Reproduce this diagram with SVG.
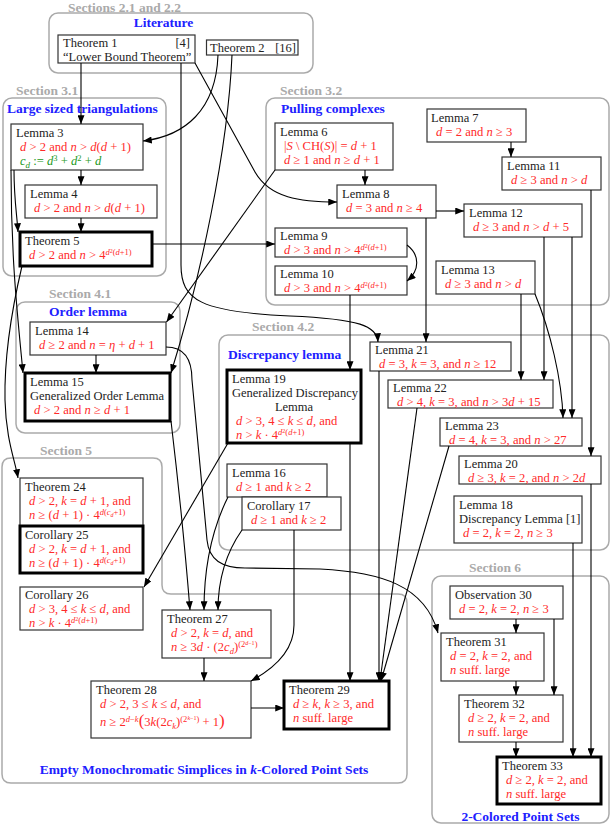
<svg xmlns="http://www.w3.org/2000/svg" width="612" height="827" viewBox="0 0 612 827">
<style>
.t{font-family:"Liberation Serif",serif;font-size:12.5px;fill:#222}
.m{font-family:"Liberation Serif",serif;font-size:12.6px;fill:#ff2a2a}
.gr{fill:#229922}
.i{font-style:italic}
.sec{font-family:"Liberation Serif",serif;font-weight:bold;font-size:13.5px;fill:#aaaaaa}
.lab{font-family:"Liberation Serif",serif;font-weight:bold;font-size:13.5px;fill:#2020ff}
.cl{fill:none;stroke:#aaaaaa;stroke-width:1.5}
.n{fill:#fff;stroke:#333;stroke-width:1.2}
.nb{fill:#fff;stroke:#000;stroke-width:3}
.e{fill:none;stroke:#000;stroke-width:1.1;marker-end:url(#a)}
</style>
<defs>
<marker id="a" viewBox="0 0 10 8" refX="10" refY="4" markerWidth="9" markerHeight="7" orient="auto" markerUnits="userSpaceOnUse"><path d="M0,0 L10,4 L0,8 z" fill="#000"/></marker>
</defs>
<rect width="612" height="827" fill="#fff"/>
<g id="clusters">
<rect class="cl" x="49" y="13" width="264" height="60" rx="9"/>
<text class="sec" x="68" y="11.5">Sections 2.1 and 2.2</text>
<text class="lab" x="163.5" y="27" text-anchor="middle">Literature</text>
<rect class="cl" x="3" y="98" width="163" height="178" rx="9"/>
<text class="sec" x="16" y="95">Section 3.1</text>
<text class="lab" x="7" y="113">Large sized triangulations</text>
<rect class="cl" x="266" y="98" width="343" height="207" rx="9"/>
<text class="sec" x="280" y="95">Section 3.2</text>
<text class="lab" x="281" y="113">Pulling complexes</text>
<rect class="cl" x="16" y="302" width="164" height="131" rx="9"/>
<text class="sec" x="49" y="298">Section 4.1</text>
<text class="lab" x="49" y="316">Order lemma</text>
<rect class="cl" x="219" y="335" width="390" height="215" rx="9"/>
<text class="sec" x="252" y="331">Section 4.2</text>
<text class="lab" x="228" y="359">Discrepancy lemma</text>
<path class="cl" d="M11,458 L153,458 Q162,458 162,467 L162,585 Q162,594 171,594 L398,594 Q407,594 407,603 L407,774 Q407,783 398,783 L11,783 Q2,783 2,774 L2,467 Q2,458 11,458 Z"/>
<text class="sec" x="40" y="455">Section 5</text>
<text class="lab" x="204" y="774" text-anchor="middle">Empty Monochromatic Simplices in <tspan class="i">k</tspan>-Colored Point Sets</text>
<rect class="cl" x="432" y="576" width="177" height="247" rx="9"/>
<text class="sec" x="469" y="572">Section 6</text>
<text class="lab" x="520.5" y="821" text-anchor="middle">2-Colored Point Sets</text>
</g>
<g id="theorem1"><rect class="n" x="58" y="35" width="137" height="28"/><text class="t" x="63" y="47">Theorem 1</text><text class="t" x="190" y="47" text-anchor="end">[4]</text><text class="t" x="63" y="61">“Lower Bound Theorem”</text></g>
<g id="theorem2"><rect class="n" x="206.5" y="40" width="91.5" height="15"/><text class="t" x="210" y="52">Theorem 2</text><text class="t" x="296" y="52" text-anchor="end">[16]</text></g>
<g id="lemma3"><rect class="n" x="11" y="124" width="132" height="46"/><text class="t" x="16" y="137">Lemma 3</text><text class="m" x="20" y="151"><tspan class="i">d</tspan> &gt; 2 and <tspan class="i">n</tspan> &gt; <tspan class="i">d</tspan>(<tspan class="i">d</tspan> + 1)</text><text class="m gr" x="20" y="165"><tspan class="i">c</tspan><tspan class="i" dy="3" font-size="9">d</tspan><tspan dy="-3"> := </tspan><tspan class="i">d</tspan><tspan dy="-4" font-size="8.5">3</tspan><tspan dy="4"> + </tspan><tspan class="i">d</tspan><tspan dy="-4" font-size="8.5">2</tspan><tspan dy="4"> + </tspan><tspan class="i">d</tspan></text></g>
<g id="lemma4"><rect class="n" x="25" y="185" width="132" height="33"/><text class="t" x="30" y="198">Lemma 4</text><text class="m" x="34" y="212"><tspan class="i">d</tspan> &gt; 2 and <tspan class="i">n</tspan> &gt; <tspan class="i">d</tspan>(<tspan class="i">d</tspan> + 1)</text></g>
<g id="theorem5"><rect class="nb" x="20" y="232" width="132" height="34"/><text class="t" x="25" y="245">Theorem 5</text><text class="m" x="29" y="259"><tspan class="i">d</tspan> &gt; 2 and <tspan class="i">n</tspan> &gt; 4<tspan dy="-4" font-size="8.5"><tspan class="i">d</tspan><tspan dy="-2.5" font-size="6">2</tspan><tspan dy="2.5">(</tspan><tspan class="i">d</tspan>+1)</tspan></text></g>
<g id="lemma6"><rect class="n" x="275" y="123" width="118" height="47"/><text class="t" x="280" y="136">Lemma 6</text><text class="m" x="284" y="150">|<tspan class="i">S</tspan> \ CH(<tspan class="i">S</tspan>)| = <tspan class="i">d</tspan> + 1</text><text class="m" x="284" y="164"><tspan class="i">d</tspan> ≥ 1 and <tspan class="i">n</tspan> ≥ <tspan class="i">d</tspan> + 1</text></g>
<g id="lemma7"><rect class="n" x="427" y="109" width="99" height="33"/><text class="t" x="431" y="122">Lemma 7</text><text class="m" x="436" y="136"><tspan class="i">d</tspan> = 2 and <tspan class="i">n</tspan> ≥ 3</text></g>
<g id="lemma11"><rect class="n" x="502" y="157" width="99" height="33"/><text class="t" x="507" y="170">Lemma 11</text><text class="m" x="511" y="184"><tspan class="i">d</tspan> ≥ 3 and <tspan class="i">n</tspan> &gt; <tspan class="i">d</tspan></text></g>
<g id="lemma8"><rect class="n" x="337" y="185" width="99" height="33"/><text class="t" x="342" y="198">Lemma 8</text><text class="m" x="346" y="212"><tspan class="i">d</tspan> = 3 and <tspan class="i">n</tspan> ≥ 4</text></g>
<g id="lemma12"><rect class="n" x="464" y="204" width="118" height="33"/><text class="t" x="469" y="217">Lemma 12</text><text class="m" x="473" y="231"><tspan class="i">d</tspan> ≥ 3 and <tspan class="i">n</tspan> &gt; <tspan class="i">d</tspan> + 5</text></g>
<g id="lemma9"><rect class="n" x="275" y="228" width="132" height="29"/><text class="t" x="280" y="240">Lemma 9</text><text class="m" x="284" y="254"><tspan class="i">d</tspan> &gt; 3 and <tspan class="i">n</tspan> &gt; 4<tspan dy="-4" font-size="8.5"><tspan class="i">d</tspan><tspan dy="-2.5" font-size="6">2</tspan><tspan dy="2.5">(</tspan><tspan class="i">d</tspan>+1)</tspan></text></g>
<g id="lemma10"><rect class="n" x="275" y="266" width="132" height="29"/><text class="t" x="280" y="278">Lemma 10</text><text class="m" x="284" y="292"><tspan class="i">d</tspan> &gt; 3 and <tspan class="i">n</tspan> &gt; 4<tspan dy="-4" font-size="8.5"><tspan class="i">d</tspan><tspan dy="-2.5" font-size="6">2</tspan><tspan dy="2.5">(</tspan><tspan class="i">d</tspan>+1)</tspan></text></g>
<g id="lemma13"><rect class="n" x="436" y="261" width="99" height="33"/><text class="t" x="441" y="274">Lemma 13</text><text class="m" x="445" y="288"><tspan class="i">d</tspan> ≥ 3 and <tspan class="i">n</tspan> &gt; <tspan class="i">d</tspan></text></g>
<g id="lemma14"><rect class="n" x="30" y="322" width="136" height="33"/><text class="t" x="35" y="335">Lemma 14</text><text class="m" x="39" y="349"><tspan class="i">d</tspan> ≥ 2 and <tspan class="i">n</tspan> = <tspan class="i">η</tspan> + <tspan class="i">d</tspan> + 1</text></g>
<g id="lemma15"><rect class="nb" x="25" y="373" width="145" height="48"/><text class="t" x="30" y="386">Lemma 15</text><text class="t" x="30" y="400">Generalized Order Lemma</text><text class="m" x="34" y="414"><tspan class="i">d</tspan> &gt; 2 and <tspan class="i">n</tspan> ≥ <tspan class="i">d</tspan> + 1</text></g>
<g id="lemma21"><rect class="n" x="370" y="342" width="141" height="29"/><text class="t" x="375" y="354">Lemma 21</text><text class="m" x="379" y="368"><tspan class="i">d</tspan> = 3, <tspan class="i">k</tspan> = 3, and <tspan class="i">n</tspan> ≥ 12</text></g>
<g id="lemma22"><rect class="n" x="388" y="380" width="165" height="28"/><text class="t" x="393" y="392">Lemma 22</text><text class="m" x="397" y="406"><tspan class="i">d</tspan> &gt; 4, <tspan class="i">k</tspan> = 3, and <tspan class="i">n</tspan> &gt; 3<tspan class="i">d</tspan> + 15</text></g>
<g id="lemma23"><rect class="n" x="440" y="418" width="142" height="28"/><text class="t" x="445" y="430">Lemma 23</text><text class="m" x="449" y="444"><tspan class="i">d</tspan> = 4, <tspan class="i">k</tspan> = 3, and <tspan class="i">n</tspan> &gt; 27</text></g>
<g id="lemma20"><rect class="n" x="459" y="456" width="142" height="28"/><text class="t" x="464" y="468">Lemma 20</text><text class="m" x="468" y="482"><tspan class="i">d</tspan> ≥ 3, <tspan class="i">k</tspan> = 2, and <tspan class="i">n</tspan> &gt; 2<tspan class="i">d</tspan></text></g>
<g id="lemma18"><rect class="n" x="454" y="496" width="128" height="47"/><text class="t" x="459" y="509">Lemma 18</text><text class="t" x="459" y="523">Discrepancy Lemma [1]</text><text class="m" x="463" y="537"><tspan class="i">d</tspan> = 2, <tspan class="i">k</tspan> = 2, <tspan class="i">n</tspan> ≥ 3</text></g>
<g id="lemma19"><rect class="nb" x="227" y="370" width="134" height="73"/><text class="t" x="232" y="383">Lemma 19</text><text class="t" x="232" y="397">Generalized Discrepancy</text><text class="t" x="294" y="411" text-anchor="middle">Lemma</text><text class="m" x="236" y="425"><tspan class="i">d</tspan> &gt; 3, 4 ≤ <tspan class="i">k</tspan> ≤ <tspan class="i">d</tspan>, and</text><text class="m" x="236" y="439"><tspan class="i">n</tspan> &gt; <tspan class="i">k</tspan> · 4<tspan dy="-4" font-size="8.5"><tspan class="i">d</tspan><tspan dy="-2.5" font-size="6">2</tspan><tspan dy="2.5">(</tspan><tspan class="i">d</tspan>+1)</tspan></text></g>
<g id="lemma16"><rect class="n" x="227" y="464" width="100" height="33"/><text class="t" x="232" y="477">Lemma 16</text><text class="m" x="236" y="491"><tspan class="i">d</tspan> ≥ 1 and <tspan class="i">k</tspan> ≥ 2</text></g>
<g id="corollary17"><rect class="n" x="242" y="497" width="99" height="33"/><text class="t" x="247" y="510">Corollary 17</text><text class="m" x="251" y="524"><tspan class="i">d</tspan> ≥ 1 and <tspan class="i">k</tspan> ≥ 2</text></g>
<g id="theorem24"><rect class="n" x="20" y="478" width="123" height="48"/><text class="t" x="25" y="491">Theorem 24</text><text class="m" x="29" y="505"><tspan class="i">d</tspan> &gt; 2, <tspan class="i">k</tspan> = <tspan class="i">d</tspan> + 1, and</text><text class="m" x="29" y="519"><tspan class="i">n</tspan> ≥ (<tspan class="i">d</tspan> + 1) · 4<tspan dy="-4" font-size="8.5"><tspan class="i">d</tspan>(<tspan class="i">c</tspan><tspan class="i" dy="2" font-size="6">d</tspan><tspan dy="-2">+1)</tspan></tspan></text></g>
<g id="corollary25"><rect class="nb" x="20" y="526" width="123" height="47"/><text class="t" x="25" y="539">Corollary 25</text><text class="m" x="29" y="553"><tspan class="i">d</tspan> &gt; 2, <tspan class="i">k</tspan> = <tspan class="i">d</tspan> + 1, and</text><text class="m" x="29" y="567"><tspan class="i">n</tspan> ≥ (<tspan class="i">d</tspan> + 1) · 4<tspan dy="-4" font-size="8.5"><tspan class="i">d</tspan>(<tspan class="i">c</tspan><tspan class="i" dy="2" font-size="6">d</tspan><tspan dy="-2">+1)</tspan></tspan></text></g>
<g id="corollary26"><rect class="n" x="20" y="587" width="123" height="43"/><text class="t" x="25" y="599">Corollary 26</text><text class="m" x="29" y="613"><tspan class="i">d</tspan> &gt; 3, 4 ≤ <tspan class="i">k</tspan> ≤ <tspan class="i">d</tspan>, and</text><text class="m" x="29" y="627"><tspan class="i">n</tspan> &gt; <tspan class="i">k</tspan> · 4<tspan dy="-4" font-size="8.5"><tspan class="i">d</tspan><tspan dy="-2.5" font-size="6">2</tspan><tspan dy="2.5">(</tspan><tspan class="i">d</tspan>+1)</tspan></text></g>
<g id="theorem27"><rect class="n" x="162" y="610" width="109" height="48"/><text class="t" x="167" y="623">Theorem 27</text><text class="m" x="171" y="637"><tspan class="i">d</tspan> &gt; 2, <tspan class="i">k</tspan> = <tspan class="i">d</tspan>, and</text><text class="m" x="171" y="651"><tspan class="i">n</tspan> ≥ 3<tspan class="i">d</tspan> · (2<tspan class="i">c</tspan><tspan class="i" dy="3" font-size="8.5">d</tspan><tspan dy="-3">)</tspan><tspan dy="-4" font-size="8.5">(2<tspan dy="-2.5" font-size="6"><tspan class="i">d</tspan>−1</tspan><tspan dy="2.5">)</tspan></tspan></text></g>
<g id="theorem28"><rect class="n" x="91" y="681" width="160" height="57"/><text class="t" x="96" y="694">Theorem 28</text><text class="m" x="100" y="708"><tspan class="i">d</tspan> &gt; 2, 3 ≤ <tspan class="i">k</tspan> ≤ <tspan class="i">d</tspan>, and</text><text class="m" x="100" y="726"><tspan class="i">n</tspan> ≥ 2<tspan dy="-4" font-size="8.5"><tspan class="i">d</tspan>−<tspan class="i">k</tspan></tspan><tspan dy="4" font-size="17">(</tspan>3<tspan class="i">k</tspan>(2<tspan class="i">c</tspan><tspan class="i" dy="3" font-size="8.5">k</tspan><tspan dy="-3">)</tspan><tspan dy="-4" font-size="8.5">(2<tspan dy="-2.5" font-size="6"><tspan class="i">k</tspan>−1</tspan><tspan dy="2.5">)</tspan></tspan><tspan dy="4"> + 1</tspan><tspan font-size="17">)</tspan></text></g>
<g id="theorem29"><rect class="nb" x="284" y="681" width="105" height="48"/><text class="t" x="289" y="694">Theorem 29</text><text class="m" x="293" y="708"><tspan class="i">d</tspan> ≥ <tspan class="i">k</tspan>, <tspan class="i">k</tspan> ≥ 3, and</text><text class="m" x="293" y="722"><tspan class="i">n</tspan> suff. large</text></g>
<g id="observation30"><rect class="n" x="450" y="586" width="113" height="33"/><text class="t" x="455" y="599">Observation 30</text><text class="m" x="459" y="613"><tspan class="i">d</tspan> = 2, <tspan class="i">k</tspan> = 2, <tspan class="i">n</tspan> ≥ 3</text></g>
<g id="theorem31"><rect class="n" x="441" y="633" width="103" height="48"/><text class="t" x="446" y="646">Theorem 31</text><text class="m" x="450" y="660"><tspan class="i">d</tspan> = 2, <tspan class="i">k</tspan> = 2, and</text><text class="m" x="450" y="674"><tspan class="i">n</tspan> suff. large</text></g>
<g id="theorem32"><rect class="n" x="459" y="695" width="104" height="47"/><text class="t" x="464" y="708">Theorem 32</text><text class="m" x="468" y="722"><tspan class="i">d</tspan> ≥ 2, <tspan class="i">k</tspan> = 2, and</text><text class="m" x="468" y="736"><tspan class="i">n</tspan> suff. large</text></g>
<g id="theorem33"><rect class="nb" x="497" y="757" width="104" height="47"/><text class="t" x="502" y="770">Theorem 33</text><text class="m" x="506" y="784"><tspan class="i">d</tspan> ≥ 2, <tspan class="i">k</tspan> = 2, and</text><text class="m" x="506" y="798"><tspan class="i">n</tspan> suff. large</text></g>
<g id="connectors">
<path class="e" d="M81,63 L81,124"/>
<path class="e" d="M218,55 C216,110 185,136 143,141"/>
<path class="e" d="M181,63 L181,265 C181,300 200,312 290,316 C360,319 377,326 378,342"/>
<path class="e" d="M195,63 L255,172 C270,198 300,202 337,202"/>
<path class="e" d="M275,170 L166.5,322"/>
<path class="e" d="M232,55 C228,150 200,280 171,373"/>
<path class="e" d="M365,170 L365,185"/>
<path class="e" d="M511,142 L511,157"/>
<path class="e" d="M436,211 L464,211"/>
<path class="e" d="M152,244 L275,244"/>
<path class="e" d="M407,245 C420,255 420,270 407,281"/>
<path class="e" d="M81,170 L81,185"/>
<path class="e" d="M81,218 L81,232"/>
<path class="e" d="M14,170 C14,200 17,215 18,232"/>
<path class="e" d="M11,170 C11,260 18,320 23,373"/>
<path class="e" d="M22,266 C14,300 4,350 5,400 C6,440 15,460 18,478"/>
<path class="e" d="M96,355 L96,373"/>
<path class="e" d="M166,347 C185,347 192,360 192,380 L207,540 C209,560 222,568 245,568 L320,569 C380,572 425,585 438,633"/>
<path class="e" d="M171,421 C178,480 186,560 190,610"/>
<path class="e" d="M228,497 C214,525 204,560 204,610"/>
<path class="e" d="M242,530 C228,550 218,575 218,610"/>
<path class="e" d="M204,658 L204,681"/>
<path class="e" d="M294,530 L294,625 C294,650 275,668 251,681"/>
<path class="e" d="M251,708 L284,708"/>
<path class="e" d="M350,443 L350,681"/>
<path class="e" d="M350,295 L350,370"/>
<path class="e" d="M228,443 L144,587"/>
<path class="e" d="M379,371 L379,681"/>
<path class="e" d="M417,408 L380,681"/>
<path class="e" d="M449,446 L381,681"/>
<path class="e" d="M426,218 L426,342"/>
<path class="e" d="M544,237 L544,380"/>
<path class="e" d="M572,237 L572,418"/>
<path class="e" d="M521,294 L521,380"/>
<path class="e" d="M535,294 C550,330 562,380 563,418"/>
<path class="e" d="M591,190 L591,456"/>
<path class="e" d="M591,484 L591,757"/>
<path class="e" d="M573,543 L573,757"/>
<path class="e" d="M516,619 L516,633"/>
<path class="e" d="M554,619 L554,695"/>
<path class="e" d="M516,681 L516,695"/>
<path class="e" d="M516,742 L516,757"/>
</g>
</svg>
